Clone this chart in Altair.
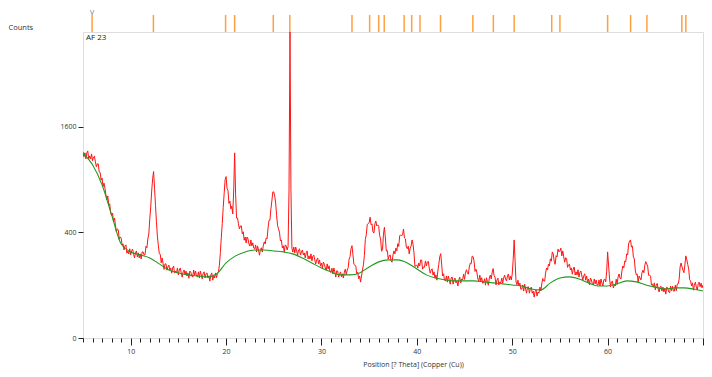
import altair as alt
import pandas as pd

# ---------------- data ----------------
sample_name = "AF 23"
x_title = "Position [?  Theta] (Copper (Cu))"
y_title = "Counts"

# measured scan, 0.1 deg step starting at 5.0 deg 2Theta
scan_start = 5.0
scan_step = 0.1
counts_05_15 = [
    1243, 1178, 1230, 1152, 1230, 1256, 1151, 1190, 1151, 1216,
    1128, 1175, 1187, 1114, 1052, 1088, 1088, 990, 984, 894,
    918, 823, 861, 807, 736, 684, 724, 635, 647, 560,
    537, 559, 485, 516, 459, 403, 427, 420, 350, 367,
    358, 311, 318, 278, 304, 311, 258, 272, 253, 286,
    248, 272, 284, 254, 230, 260, 272, 236, 260, 230,
    254, 224, 266, 266, 248, 248, 302, 292, 355, 388,
    510, 615, 775, 910, 995, 805, 632, 485, 372, 305,
    255, 252, 203, 230, 197, 169, 197, 197, 165, 181,
    191, 166, 176, 151, 176, 186, 151, 161, 151, 176,
]
counts_15_25 = [
    143, 166, 176, 152, 133, 157, 166, 143, 161, 138,
    152, 128, 161, 156, 138, 133, 166, 142, 161, 138,
    134, 157, 129, 161, 143, 125, 152, 157, 129, 148,
    152, 129, 139, 116, 143, 152, 120, 138, 129, 152,
    130, 152, 156, 190, 262, 365, 470, 612, 750, 900,
    935, 805, 780, 650, 672, 598, 625, 552, 787, 1230,
    735, 516, 516, 467, 427, 451, 451, 388, 405, 343,
    366, 324, 366, 352, 317, 303, 345, 304, 325, 290,
    285, 311, 265, 304, 278, 246, 279, 292, 265, 305,
    332, 317, 359, 353, 434, 497, 499, 598, 674, 766,
]
counts_25_35 = [
    766, 722, 653, 536, 454, 427, 402, 338, 345, 291,
    305, 265, 311, 304, 278, 300, 787, 3360, 787, 290,
    265, 297, 259, 297, 272, 247, 279, 285, 247, 266,
    278, 248, 260, 230, 260, 272, 224, 242, 224, 254,
    213, 241, 246, 218, 197, 219, 230, 197, 219, 185,
    202, 176, 207, 196, 176, 165, 197, 171, 187, 156,
    156, 175, 147, 176, 157, 133, 162, 161, 133, 148,
    157, 134, 148, 129, 156, 170, 143, 166, 177, 223,
    238, 286, 306, 249, 195, 191, 185, 148, 155, 126,
    138, 112, 138, 166, 192, 245, 349, 382, 463, 469,
]
counts_35_45 = [
    476, 524, 460, 467, 404, 395, 467, 491, 451, 459,
    448, 375, 352, 270, 280, 387, 440, 359, 271, 275,
    224, 242, 248, 213, 206, 248, 272, 254, 290, 273,
    319, 301, 374, 382, 374, 382, 426, 359, 353, 296,
    286, 303, 254, 290, 304, 345, 316, 260, 184, 187,
    192, 175, 202, 187, 219, 218, 170, 181, 180, 213,
    187, 207, 211, 176, 151, 166, 172, 142, 157, 128,
    143, 120, 161, 195, 237, 255, 196, 138, 148, 120,
    117, 138, 112, 138, 121, 104, 129, 134, 104, 121,
    129, 109, 117, 97, 121, 133, 109, 125, 121, 146,
]
counts_45_55 = [
    123, 153, 167, 152, 146, 181, 201, 198, 241, 237,
    212, 159, 170, 152, 125, 116, 142, 117, 130, 108,
    109, 126, 100, 130, 113, 100, 129, 142, 125, 156,
    173, 139, 133, 101, 121, 129, 101, 113, 109, 129,
    108, 129, 142, 125, 117, 138, 147, 121, 137, 121,
    147, 220, 345, 213, 113, 102, 120, 97, 108, 85,
    86, 101, 79, 104, 86, 72, 93, 94, 72, 87,
    93, 72, 79, 60, 77, 83, 63, 76, 72, 93,
    79, 105, 127, 117, 116, 152, 176, 166, 196, 187,
    225, 212, 266, 254, 212, 195, 243, 236, 284, 266,
]
counts_55_70 = [
    273, 290, 242, 272, 236, 206, 231, 226, 179, 192,
    196, 166, 176, 146, 171, 181, 142, 157, 142, 167,
    133, 156, 161, 138, 120, 139, 148, 120, 138, 111,
    125, 101, 129, 121, 105, 101, 125, 105, 121, 101,
    101, 121, 97, 125, 109, 97, 121, 125, 113, 157,
    266, 191, 129, 94, 113, 116, 90, 101, 97, 124,
    104, 134, 147, 129, 125, 162, 186, 176, 213, 208,
    254, 247, 318, 337, 345, 297, 303, 236, 224, 166,
    143, 147, 112, 138, 129, 121, 152, 165, 153, 190,
    209, 197, 185, 141, 142, 137, 101, 105, 93, 109,
    83, 100, 107, 87, 76, 93, 96, 79, 93, 76,
    89, 69, 93, 90, 76, 73, 97, 80, 96, 79,
    79, 100, 80, 104, 105, 124, 181, 202, 181, 166,
    153, 191, 242, 220, 194, 171, 122, 117, 97, 109,
    82, 100, 112, 93, 82, 105, 112, 94, 108, 90,
    101,
]

# fitted background
bg_pos = [5, 6, 7, 8, 9, 10, 11, 12, 13, 14, 15, 16, 17, 18, 19, 20, 21, 22,
          23, 24, 25, 26, 27, 28, 29, 30, 31, 32, 33, 34, 35, 36, 37, 38, 39,
          40, 41, 42, 43, 44, 45, 46, 47, 48, 49, 50, 51, 52, 53, 54, 55, 56,
          57, 58, 59, 60, 61, 62, 63, 64, 65, 66, 67, 68, 69, 70]
bg_counts = [1230, 1076, 841, 544, 317, 266, 248, 230, 197, 166, 152, 143, 138,
             134, 147, 202, 242, 266, 278, 278, 272, 266, 254, 230, 202, 176,
             157, 143, 143, 152, 181, 208, 219, 219, 202, 171, 143, 129, 121,
             117, 117, 117, 113, 109, 105, 101, 97, 86, 83, 109, 129, 134, 125,
             109, 97, 97, 105, 117, 113, 101, 93, 86, 90, 90, 86, 79]

# reference pattern line positions (deg 2Theta)
ref_pos = [5.95, 12.38, 19.95, 20.9, 24.95, 26.68, 33.2, 35.05, 36.0, 36.58,
           38.67, 39.46, 40.33, 42.48, 45.87, 48.02, 50.2, 54.14, 55.0, 60.0,
           62.41, 64.12, 67.78, 68.2]
marker_pos = [5.95]

y_ticks = [0, 400, 1600]
x_ticks = list(range(5, 71))

# ---------------- build ----------------
counts = counts_05_15 + counts_15_25 + counts_25_35 + counts_35_45 + counts_45_55 + counts_55_70
pos = [round(scan_start + i * scan_step, 2) for i in range(len(counts))]
scan = pd.DataFrame({"pos": pos, "counts": counts})
bg = pd.DataFrame({"pos": bg_pos, "counts": bg_counts})
refs = pd.DataFrame({"pos": ref_pos})
marker = pd.DataFrame({"pos": marker_pos, "t": ["V"]})
label_df = pd.DataFrame({"t": [sample_name]})

FONT = "Open Sans"
TXT = "#333333"

x_scale = alt.Scale(domain=[5, 70], nice=False, zero=False)
y_scale = alt.Scale(type="sqrt", domain=[0, 3360], nice=False)

x_axis = alt.Axis(
    values=x_ticks,
    labelExpr="(datum.value % 10 === 0 && datum.value < 70) ? datum.label : ''",
    tickSize={"condition": {"test": "datum.value % 10 === 0", "value": 7}, "value": 4},
    tickColor="#222222",
    tickWidth=1,
    domain=False,
    grid=False,
    labelOverlap=False,
    labelFlush=False,
    labelFont=FONT,
    labelFontSize=7,
    labelColor=TXT,
    labelPadding=2,
    title=x_title,
    titleFont=FONT,
    titleFontSize=7,
    titleFontWeight="normal",
    titleColor=TXT,
    titleX=330,
    titleY=26,
    titleAlign="center",
    titleBaseline="middle",
)
y_axis = alt.Axis(
    values=y_ticks,
    format="d",
    tickSize=5,
    tickColor="#222222",
    domain=False,
    grid=False,
    labelFont=FONT,
    labelFontSize=7,
    labelColor=TXT,
    labelPadding=2,
    title=y_title,
    titleFont=FONT,
    titleFontSize=7.5,
    titleFontWeight="normal",
    titleColor=TXT,
    titleAngle=0,
    titleAlign="left",
    titleBaseline="middle",
    titleX=-75,
    titleY=-5,
)

red = alt.Chart(scan).mark_line(color="#ff1414", strokeWidth=1, clip=True).encode(
    x=alt.X("pos:Q", scale=x_scale, axis=x_axis),
    y=alt.Y("counts:Q", scale=y_scale, axis=y_axis),
)
green = alt.Chart(bg).mark_line(color="#1f9a1f", strokeWidth=1.1, interpolate="monotone", clip=True).encode(
    x=alt.X("pos:Q", scale=x_scale, axis=x_axis),
    y=alt.Y("counts:Q", scale=y_scale, axis=y_axis),
)
sticks = alt.Chart(refs).mark_rule(color="#ffa040", strokeWidth=1.5, clip=False).encode(
    x=alt.X("pos:Q", scale=x_scale, axis=x_axis),
    y=alt.value(-17),
    y2=alt.value(0),
)
mark_v = alt.Chart(marker).mark_text(color="#777777", fontSize=7, font=FONT, baseline="middle").encode(
    x=alt.X("pos:Q", scale=x_scale, axis=x_axis),
    y=alt.value(-19),
    text="t:N",
)
label = alt.Chart(label_df).mark_text(color="#222222", fontSize=8, font=FONT, align="left", baseline="middle").encode(
    x=alt.value(3),
    y=alt.value(6),
    text="t:N",
)

chart = alt.layer(red, green, sticks, mark_v, label).properties(
    width=620,
    height=306,
    padding={"left": 75, "top": 24, "right": 1, "bottom": 31},
    autosize=alt.AutoSizeParams(type="none"),
).configure_view(
    stroke="#111111", strokeWidth=1.5
).configure(background="white")

chart.save("out.html", embed_options={"renderer": "svg", "actions": False})
